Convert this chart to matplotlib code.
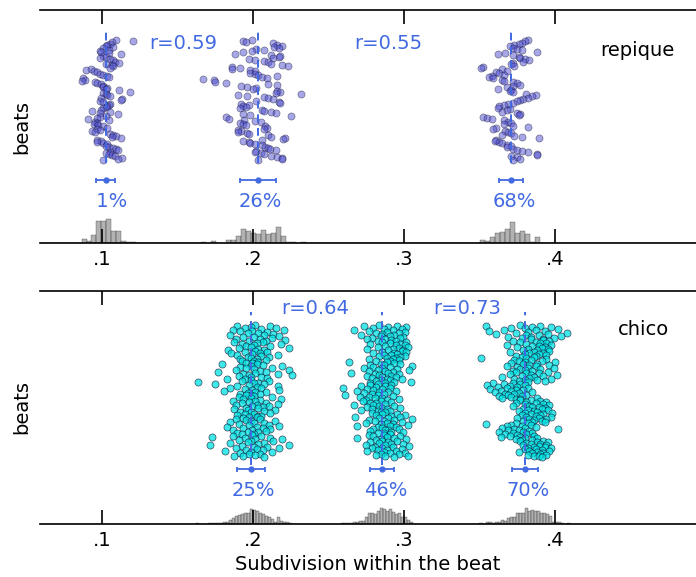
import numpy as np
import matplotlib
matplotlib.use("Agg")
import matplotlib.pyplot as plt

# onset offsets from each cluster mean, in thousandths of a beat, listed beat by beat (top -> bottom)
rep_dev1 = [7, 18, 4, 3, 1, 0, 5, -2, 2, -4, -3, 2, 10, -2, 0, -4, 3, 5, 6, 9, 0, 4, 5, 3,
            -10, -13, -8, -6, -4, -2, 1, 2, -15, -14, -16, -7, -6, -3, -2, -2,
            1, 0, 9, 16, -2, 0, 1, 3, -3, 11, 10, -4, -2,
            3, 2, 1, 0, -2, -3, -9, 3, -4, 8, 0, -4, -6, -12, 2,
            -7, -6, -8, -5, -2, 1, -6, -4, -9, -7, 3, 5, 7, 4, 10,
            -6, -3, -6, -2, 1, 0, 2, 5, 7, 8, 3, 0, 2, 4, 6, 11, 8, -2]
rep_dev2 = [-4, -10, -8, 10, 13, 16, 11, 14, -1, 4, -4, -10, -15, 9, 15, 14, 10, -6, -2, 4, 7, 9, 16, 20,
            -17, -12, -17, -5, -2, -5, -2, 0, 13, 3, 6, -36, -29, -28, -21, 7, 13,
            -11, -7, -1, -3, 13, 15, 12, 29, -13, -7, 4, 7, 10, -1, 14, 15,
            -11, -6, -10, -8, -12, 3, 4, 9, 12, -10, -5, 22, -21, -19, -9, -2, 2,
            -12, -10, -8, 5, 6, 4, -13, -11, -13, -7, -6, 7, 9, 18, 17, 3,
            -10, -6, -5, -2, 3, 5, 7, 8, 12, -1, -2, 2, 4, 9, 13, 16, 16, 0]
rep_dev3 = [11, 9, 7, 5, 2, -1, 1, 4, 7, 17, -4, -9, 1, 5, 6, 9, 12, 8, 1, 0, 2,
            -19, -20, -6, -3, -10, -8, -5, -13, -15, -12, -6, -5, 1, 4, 6, 1, -3, -9,
            0, -1, 1, 10, 16, 14, 11, 8, 6, 4, 1, -2, -5, -8, -9,
            -1, -3, -6, 4, 6, 5, -19, -16, -13, -5, -2, 0, -5, 1, 11,
            -10, -12, -4, -2, 0, -6, 2, 7, 18, -10, -11, -8, -6, -3, 0,
            -3, 1, 4, 7, 11, 17, 17, 0, 4, 6, 1]

chi_dev1 = [3, -9, 13, 0, -4, 17, 7, -12, 22, 1, -7, 11, 5, -2, 15, 9, -14, 19, 2, -5, 14, 6, -10, 23, 10,
            -1, 8, -11, 4, 20, -6, 2, 13, -3, 0, 25, -8, 5, 9, -15, 3, -4, 11, 6, -13, 1, 18, -9, 7, -2,
            12, 0, -7, 4, 10, -6, 2, 5, -3, 1,
            4, -19, 8, 0, 21, -7, 14, -3, 2, 25, -10, 6, -22, 10, 3, -5, 18, -1, 27, -8, 7, 0, 11, -16, -4,
            0, 12, -6, -35, 5, 2, -24, 9, -1, 18, -9, 4, -14, 7, -4, 19, 1, -18, 3, 10, -2, 6, -7, 0, -3,
            2, -8, 14, 0, -5, 20, 6, -12, 3, -1, 10, -6, 18, 4, -10, 1, 12, 8, -3, 5, -11, 16, -2, 9, -7,
            0, 13, -4, 2, -9, 5, 7, -1, 4, -5,
            -10, 6, -3, 16, 0, -14, 9, 2, -8, 12, -1, 19, 4, -16, 8, -5, 13, 1, -12, 10, -2, 5, -9, -6, 2,
            1, -12, 7, -26, 13, -4, 3, 21, -8, 0, 15, -2, 9, -14, 5, -27, 25, -6, 11, 2, -10, 19, 4, -3, 8,
            -17, 0, 14, -7, 6, -1, 3, -11, -5, 9]
chi_dev2 = [-2, 10, -12, 4, 16, -6, 1, 13, -19, 7, -9, 3, 15, -4, 11, 0, -14, 8, 5, -1, 14, -7, 12, 2, -10,
            6, 9, -3, 16, 0,
            5, 12, -8, 15, 9, 2, 17, -3, 11, 7, -10, 14, 4, 13, 0, 16, 8, -6, 10, 6, 1, 15, -2, 12, 9,
            3, -9, 7, 11, 5,
            -4, 3, -22, 8, -1, 12, -8, 1, 20, -6, 5, -12, 0, 10, -3, 18, 2, -9, 7, -21, 4, -5, 11, -2, 6,
            -10, 0, 9, -7, 3, 13, -1, 5, -4, 8, 19, -8, 2, -3, 6,
            -8, 2, -14, -4, 5, -26, -10, 0, -6, 9, -17, -2, 4, -12, -7, 1, -25, -3, 7, -15, -9, 0, -5, 11,
            -11, 3, -1, -13, 6, -8, -4, 2, -19, -6, 8, -2, -10, 0, 12, -7, 3, -14, -3, 5, -1,
            2, -7, 10, 0, 15, -4, 6, -18, 12, -2, 4, 20, -9, 8, 1, -5, 13, 3, -11, 7, -1, 17, 5, -17, 9,
            -3, 0, 11, -6, 4, 2, -8, 14, 6, 1,
            -3, 5, -9, 1, 12, -6, 3, -17, 8, -1, 16, -4, 0, 10, -8, 4, -2, 14, 6, -11, 2, 18, -5, 7, -7,
            0, 13, 3, -3, 9, -10, 1, 15, 5, -1, 11, -4, 2, 17, 8]
chi_dev3 = [-3, 10, -26, 5, 17, -9, 0, 22, -14, 7, -24, 13, 2, 28, -6, 15, -19, 9, 1, 24, -11, 4, 19, -2, 12,
            4, 12, -8, 16, 7, -3, 14, 10, 1, 17, -12, 9, 5, 13, -5, 11, 2, 15, 8, -1, 16, 6, -10, 12, 3,
            9, 0, 14, 7, -6,
            -2, 6, -29, 1, 14, -7, 4, 11, -4, 0, 20, -9, 8, -1, 16, 3, -12, 7, -5, 2, 19, -3, 10, 0, -8,
            5, 15, -6, 9, 1, -10, 21, 4, -2, 12, -15, 6, 3, -7, 17, 0, 8, -4, 13, 2,
            -8, -21, -3, -14, 0, -25, -10, -5, -18, 2, -12, -23, -6, -1, -16, -9, 5, -20, -4, -13, -7, 1,
            -11, -17, -2, -9, 8, -15, -6, -3,
            4, -3, 10, 1, 14, -6, 7, 12, 0, 16, 3, -8, 9, 5, 13, -1, 11, 2, 15, 6, -4, 8, 18, 0, 12,
            4, -2, 10, 7, 17, 1, -5, 9, 14, 3, 6, 11, -1, 5, 13,
            -6, 2, -26, -9, 4, -12, -2, 7, -15, 0, -7, 22, -4, -11, 3, -17, -1, 5, -8, -13, 1, -5, 6, -10,
            -3, -16, 0, 8, -6, -2,
            5, 12, -3, 8, 15, 1, 10, 4, 14, -1, 9, 6, 13, 2, 17, 7, 0, 11, 3, 16, 8, -4, 12, 5, 10,
            2, 14, 6, 9, 11]

rep_means = [0.1025, 0.2031, 0.3711]
rep_sds = [0.0063, 0.012, 0.008]
rep_pct = [1, 26, 68]
rep_r = [0.59, 0.55]

chi_means = [0.1985, 0.2856, 0.3801]
chi_sds = [0.0094, 0.008, 0.0086]
chi_pct = [25, 46, 70]
chi_r = [0.64, 0.73]

xticks = [0.1, 0.2, 0.3, 0.4]
xtick_labels = ['.1', '.2', '.3', '.4']

BLUE = 'royalblue'


def draw_panel(ax, devs, means, sds, pcts, rs, name, face, alpha, lay):
    allx = []
    for dev, m, sd, p in zip(devs, means, sds, pcts):
        x = m + np.array(dev) / 1000.0
        allx.append(x)
        y = np.linspace(lay['pts'][0], lay['pts'][1], len(x))
        ax.scatter(x, y, s=26, facecolor=face, edgecolor='#101030', linewidth=0.5,
                   alpha=alpha, zorder=2)
        ax.plot([m, m], lay['line'], color=BLUE, lw=1.4, dashes=(4, 3), zorder=4)
        ax.errorbar(m, lay['err'], xerr=sd, fmt='o', color=BLUE, ms=3.5,
                    capsize=1.8, lw=1.3, capthick=1.3, zorder=4)
        ax.text(m + 0.002, lay['pct'], '%2d%%' % p, color=BLUE, fontsize=14,
                ha='center', va='center')

    for rx, r in zip(lay['r_x'], rs):
        ax.text(rx, lay['r_y'], 'r=%.2f' % r, color=BLUE, fontsize=14,
                ha='center', va='center')
    ax.text(lay['name'][0], lay['name'][1], name, fontsize=14, ha='center', va='center')

    # histogram of all onsets along the bottom
    allx = np.concatenate(allx)
    bins = np.arange(0.06, 0.5, lay['binw'])
    counts, edges = np.histogram(allx, bins=bins)
    heights = counts / counts.max() * lay['hist_h']
    ax.bar(edges[:-1], heights, width=lay['binw'], align='edge', color='gray',
           alpha=0.6, edgecolor='k', linewidth=0.3, zorder=1)

    ax.set_xlim(0.0589, 0.4934)
    ax.set_ylim(0, 1)
    ax.set_xticks(xticks)
    ax.set_xticklabels(xtick_labels)
    ax.set_yticks([])
    ax.tick_params(axis='x', direction='in', top=True, bottom=True, length=10,
                   width=1.2, labelsize=14, pad=5)
    for side in ['left', 'right']:
        ax.spines[side].set_visible(False)
    for side in ['top', 'bottom']:
        ax.spines[side].set_linewidth(1.2)
    ax.set_ylabel('beats', fontsize=14, labelpad=6)


fig = plt.figure(figsize=(6.96, 5.77), dpi=100)
ax1 = fig.add_axes([40 / 696, 334 / 577, 656 / 696, 233 / 577])
ax2 = fig.add_axes([40 / 696, 53 / 577, 656 / 696, 233 / 577])

top_layout = dict(pts=(0.871, 0.356), line=(0.343, 0.923), err=0.270, pct=0.176,
                  r_x=(0.1536, 0.2894), r_y=0.858, name=(0.4543, 0.828),
                  binw=0.0033, hist_h=0.105)
bot_layout = dict(pts=(0.854, 0.288), line=(0.253, 0.910), err=0.236, pct=0.142,
                  r_x=(0.2411, 0.3417), r_y=0.927, name=(0.4583, 0.833),
                  binw=0.002, hist_h=0.07)

draw_panel(ax1, [rep_dev1, rep_dev2, rep_dev3], rep_means, rep_sds, rep_pct, rep_r,
           'repique', '#5050d2', 0.5, top_layout)
draw_panel(ax2, [chi_dev1, chi_dev2, chi_dev3], chi_means, chi_sds, chi_pct, chi_r,
           'chico', '#00e2e2', 0.75, bot_layout)
ax2.set_xlabel('Subdivision within the beat', fontsize=14)

fig.savefig('out.png', dpi=100)
